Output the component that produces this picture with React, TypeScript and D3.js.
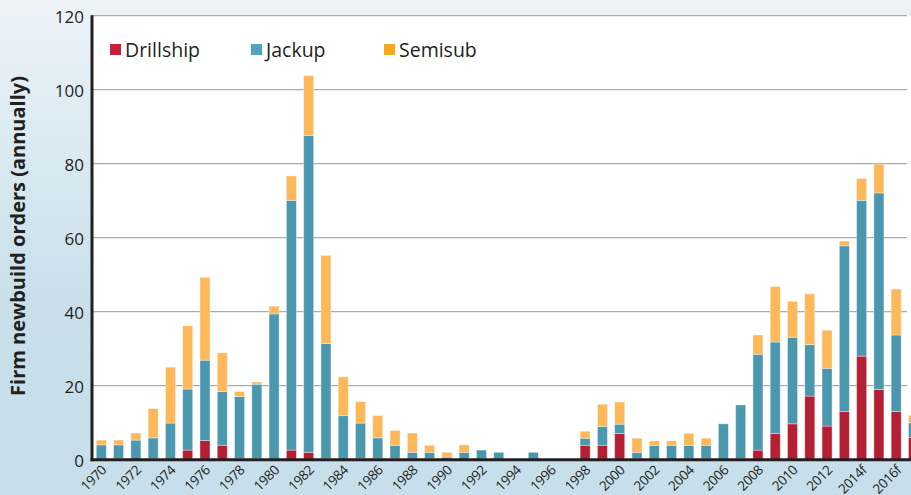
import { useMemo } from 'react';
import * as d3 from 'd3';

// Firm newbuild orders per year, by rig type
const years = [
  "1970", "1971", "1972", "1973", "1974", "1975", "1976", "1977", "1978", "1979",
  "1980", "1981", "1982", "1983", "1984", "1985", "1986", "1987", "1988", "1989",
  "1990", "1991", "1992", "1993", "1994", "1995", "1996", "1997", "1998", "1999",
  "2000", "2001", "2002", "2003", "2004", "2005", "2006", "2007", "2008", "2009",
  "2010", "2011", "2012", "2013", "2014f", "2015f", "2016f", "2017f"
];

const drillship = [
  0, 0.3, 0, 0.3, 0, 2.6, 5.2, 3.9, 0.3, 0.3,
  0, 2.6, 2.0, 0.3, 0, 0.3, 0.3, 0.3, 0, 0.3,
  0, 0, 0, 0, 0, 0, 0, 0, 3.9, 3.9,
  7.1, 0.3, 0, 0, 0, 0.3, 0, 0.3, 2.6, 7.1,
  9.7, 17.2, 9.1, 13.0, 28.0, 19.0, 13.0, 6
];

const jackup = [
  4, 3.7, 5.3, 5.6, 9.9, 16.5, 21.7, 14.5, 16.8, 20.1,
  39.4, 67.5, 85.6, 31.1, 11.9, 9.6, 5.6, 3.6, 2.0, 1.7,
  0.7, 2.0, 2.6, 2.0, 0, 2.0, 0, 0, 1.9, 5.1,
  2.5, 1.7, 3.9, 3.9, 3.9, 3.6, 9.7, 14.5, 25.9, 24.7,
  23.4, 13.9, 15.6, 44.8, 42.1, 53.1, 20.7, 4
];

const semisub = [
  1.3, 1.3, 1.9, 7.9, 15.1, 17.1, 22.4, 10.5, 1.3, 0.6,
  2.1, 6.6, 16.2, 23.8, 10.5, 5.8, 6.0, 4.0, 5.2, 1.9,
  1.3, 2.0, 0, 0, 0, 0, 0, 0, 1.9, 6.0,
  6.0, 3.8, 1.2, 1.2, 3.2, 1.9, 0, 0, 5.2, 15.0,
  9.7, 13.7, 10.3, 1.3, 5.9, 7.8, 12.4, 2
];

const tickLabels = [
  "1970", "1972", "1974", "1976", "1978", "1980", "1982", "1984", "1986", "1988",
  "1990", "1992", "1994", "1996", "1998", "2000", "2002", "2004", "2006", "2008",
  "2010", "2012", "2014f", "2016f"
];

const yTicks = [0, 20, 40, 60, 80, 100, 120];

const seriesNames = ["Drillship", "Jackup", "Semisub"];
const barColors = ["#b51f33", "#4b98ae", "#fdb859"];
const legendColors = ["#c8203a", "#4fa5bd", "#f8a81c"];

const W = 911;
const H = 495;
const plotLeft = 92;
const plotRight = 907;
const font = "'Open Sans', sans-serif";

export default function App() {
  const rows = years.map((y, i) => ({
    year: y,
    Drillship: drillship[i],
    Jackup: jackup[i],
    Semisub: semisub[i]
  }));

  const stacked = useMemo(() => d3.stack<any>().keys(seriesNames)(rows), []);

  const step = 17.28;
  const x = d3.scaleBand()
    .domain(years)
    .range([101.3 - step / 2, 101.3 - step / 2 + step * years.length])
    .paddingInner(0.42)
    .paddingOuter(0.21);

  const y = d3.scaleLinear().domain([0, 120]).range([459.7, 15.7]);

  return (
    <svg width={W} height={H} style={{ position: 'absolute', left: 0, top: 0, display: 'block' }}>
      <defs>
        <linearGradient id="bg" x1="0" y1="0" x2="0" y2="1">
          <stop offset="0" stopColor="#ecf3f8" />
          <stop offset="0.6" stopColor="#c9e0eb" />
          <stop offset="1" stopColor="#c6dfea" />
        </linearGradient>
      </defs>
      <rect x={0} y={0} width={W} height={H} fill="url(#bg)" />
      <rect x={plotLeft} y={y(120)} width={W - plotLeft} height={y(0) - y(120)} fill="#ffffff" />

      {/* gridlines */}
      {yTicks.filter(t => t > 0).map(t => (
        <line key={t} x1={plotLeft} x2={plotRight} y1={y(t)} y2={y(t)} stroke="#aaaaaa" strokeWidth={1.3} />
      ))}

      {/* bars */}
      {stacked.map((layer, si) => (
        <g key={layer.key} fill={barColors[si]}>
          {layer.map((d, i) => {
            const h = y(d[0]) - y(d[1]);
            if (h <= 0) return null;
            return (
              <rect key={i} x={x(years[i])} y={y(d[1])} width={x.bandwidth()} height={h}
                stroke="#ffffff" strokeOpacity={0.45} strokeWidth={0.8} />
            );
          })}
        </g>
      ))}

      {/* axes */}
      <line x1={plotLeft} x2={plotLeft} y1={y(120) - 0.5} y2={y(0) + 1.5} stroke="#231f20" strokeWidth={3} />
      <line x1={plotLeft - 1.5} x2={W} y1={y(0)} y2={y(0)} stroke="#231f20" strokeWidth={3} />

      {/* y ticks */}
      {yTicks.map(t => (
        <text key={t} x={84} y={y(t) + 7} textAnchor="end" fontFamily={font} fontSize={17} fill="#231f20">{t}</text>
      ))}

      {/* x ticks */}
      {tickLabels.map(l => (
        <text key={l} transform={`translate(${x(l)! + x.bandwidth() / 2 + 6},471) rotate(-45)`}
          textAnchor="end" fontFamily={font} fontSize={13.5} letterSpacing={-0.4} fill="#231f20">{l}</text>
      ))}

      {/* y title */}
      <text transform="translate(25,236) rotate(-90)" textAnchor="middle" fontFamily={font}
        fontSize={20} fontWeight="bold" fill="#231f20">Firm newbuild orders (annually)</text>

      {/* legend */}
      {seriesNames.map((n, i) => {
        const lx = [110, 251, 384][i];
        return (
          <g key={n}>
            <rect x={lx} y={44} width={11} height={11} fill={legendColors[i]} />
            <text x={lx + 15} y={57} fontFamily={font} fontSize={19.5} fill="#231f20">{n}</text>
          </g>
        );
      })}
    </svg>
  );
}
